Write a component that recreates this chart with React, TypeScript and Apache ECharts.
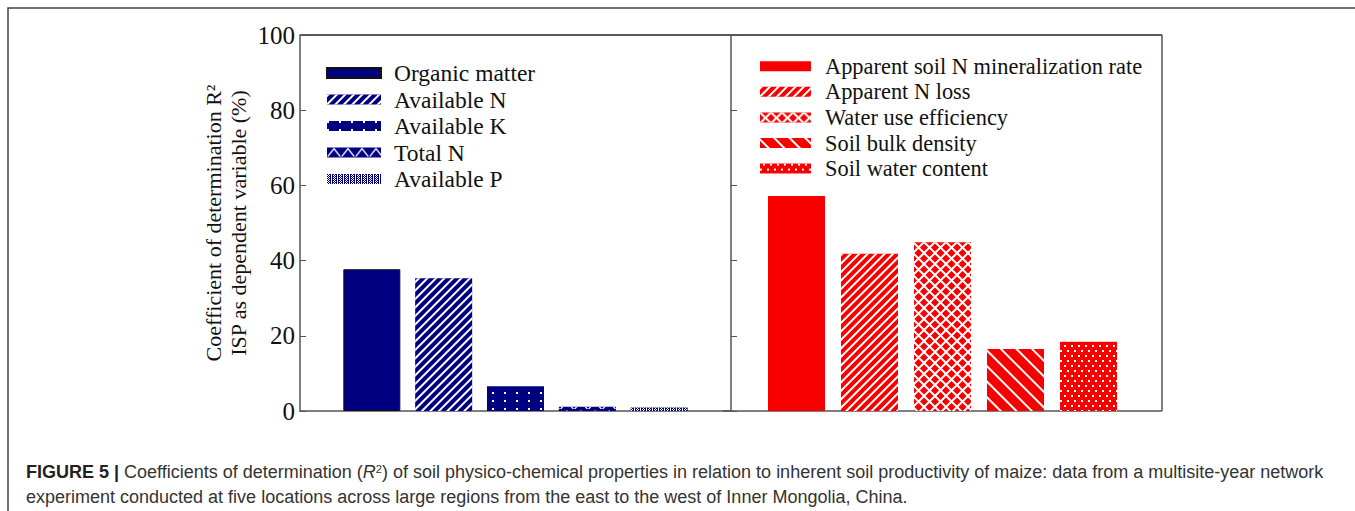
import React, { useEffect, useRef } from "react";
import * as echarts from "echarts";

// ---------- data ----------
const leftNames = ["Organic matter", "Available N", "Available K", "Total N", "Available P"];
const leftValues = [37.7, 35.3, 6.6, 1.1, 0.9];
const rightNames = [
  "Apparent soil N mineralization rate",
  "Apparent N loss",
  "Water use efficiency",
  "Soil bulk density",
  "Soil water content",
];
const rightValues = [57.2, 41.8, 44.9, 16.5, 18.4];
const slots = ["s0", "s1", "s2", "s3", "s4", "s5", "s6"];
const yMin = 0;
const yMax = 100;
const yStep = 20;
const yTitle1 = "Coefficient of determination R²";
const yTitle2 = "ISP as dependent variable (%)";
const caption1a = "FIGURE 5 | ";
const caption1b = "Coefficients of determination (";
const caption1c = ") of soil physico-chemical properties in relation to inherent soil productivity of maize: data from a multisite-year network";
const caption2 = "experiment conducted at five locations across large regions from the east to the west of Inner Mongolia, China.";

// ---------- styles ----------
const NAVY = "#000080";
const RED = "#f80000";
const SERIF = "Liberation Serif";
const SANS = "Liberation Sans";
const AXIS = "#555";

const leftDecals: any[] = [
  null,
  { symbol: "rect", color: "#fff", dashArrayX: [1, 0], dashArrayY: [1.3, 3.7], rotation: -Math.PI / 4 },
  { symbol: "rect", color: "#fff", dashArrayX: [2, 9.5], dashArrayY: [2, 5.5], rotation: 0 },
  { symbol: "path://M0,9L7,0L14,9L12.4,9L7,2.2L1.6,9Z", color: "#fff", dashArrayX: [14, 0], dashArrayY: [9, 1], rotation: 0, symbolKeepAspect: false },
  { symbol: "rect", color: "#fff", dashArrayX: [[1, 1], [0, 1, 1, 1]], dashArrayY: [1, 0], rotation: 0 },
];
const rightDecals: any[] = [
  null,
  { symbol: "rect", color: "#fff", dashArrayX: [1, 0], dashArrayY: [1.3, 3.4], rotation: -Math.PI / 4 },
  {
    symbol: "path://M0,0L1.4,0L11,9.6L11,11L9.6,11L0,1.4Z M11,0L11,1.4L1.4,11L0,11L0,9.6L9.6,0Z",
    color: "#fff",
    dashArrayX: [11, 0],
    dashArrayY: [11, 0],
    rotation: 0,
    symbolKeepAspect: false,
  },
  { symbol: "rect", color: "#fff", dashArrayX: [1, 0], dashArrayY: [1.5, 8.5], rotation: Math.PI / 4 },
  { symbol: "rect", color: "#fff", dashArrayX: [[1.6, 4.4], [0, 3, 1.6, 1.4]], dashArrayY: [1.6, 2.2], rotation: 0 },
];

function makeSeries(names: string[], values: number[], idx: number, color: string, decals: any[]) {
  return names.map((name, i) => {
    const data = slots.map((_, k) => (k === i + 1 ? values[i] : "-"));
    const itemStyle: any = { color };
    if (decals[i]) itemStyle.decal = decals[i];
    if (i === 0 && idx === 0) {
      itemStyle.borderColor = "#111";
      itemStyle.borderWidth = 1;
    }
    return {
      type: "bar",
      name,
      xAxisIndex: idx,
      yAxisIndex: idx,
      stack: "st" + idx,
      barWidth: 57,
      data,
      itemStyle,
      emphasis: { disabled: true },
    };
  });
}

export default function App() {
  const ref = useRef<HTMLDivElement>(null);
  useEffect(() => {
    if (!ref.current) return;
    const chart = echarts.init(ref.current, undefined, { renderer: "svg" });
    const yAxisBase = {
      type: "value",
      min: yMin,
      max: yMax,
      interval: yStep,
      splitLine: { show: false },
      axisLine: { show: true, lineStyle: { color: AXIS, width: 1.5 } },
      axisTick: { show: true, inside: true, length: 6, lineStyle: { color: AXIS, width: 1 } },
    };
    const xAxisBase = {
      type: "category",
      data: slots,
      boundaryGap: false,
      axisLabel: { show: false },
      axisTick: { show: false },
      splitLine: { show: false },
      axisLine: { show: true, lineStyle: { color: AXIS, width: 1.5 } },
    };
    const legendBase = {
      orient: "vertical",
      icon: "rect",
      selectedMode: false,
      itemWidth: 54,
      itemHeight: 10,
      padding: 0,
    };
    const option: any = {
      animation: false,
      backgroundColor: "#fff",
      title: [
        {
          left: 26,
          top: 463,
          padding: 0,
          text: "{b|" + caption1a + "}{n|" + caption1b + "}{i|R}{s|2}{n|" + caption1c + "}",
          textStyle: {
            fontSize: 18,
            fontFamily: SANS,
            fontWeight: "normal",
            color: "#333",
            rich: {
              b: { fontSize: 18, fontFamily: SANS, fontWeight: "bold", color: "#222", lineHeight: 18 },
              n: { fontSize: 18, fontFamily: SANS, color: "#333", lineHeight: 18 },
              i: { fontSize: 18, fontFamily: SANS, fontStyle: "italic", color: "#333", lineHeight: 18 },
              s: { fontSize: 11, fontFamily: SANS, color: "#333", lineHeight: 18, verticalAlign: "top", padding: [0, 0, 6, 0] },
            },
          },
        },
        {
          left: 26,
          top: 488,
          padding: 0,
          text: caption2,
          textStyle: { fontSize: 18, fontFamily: SANS, fontWeight: "normal", color: "#333", lineHeight: 18 },
        },
      ],
      grid: [
        { left: 300, top: 35, width: 431, height: 376 },
        { left: 723.5, top: 35, width: 438, height: 376 },
      ],
      xAxis: [
        { ...xAxisBase, gridIndex: 0 },
        { ...xAxisBase, gridIndex: 1 },
      ],
      yAxis: [
        {
          ...yAxisBase,
          gridIndex: 0,
          axisLabel: { show: true, margin: 5, color: "#111", fontSize: 25, fontFamily: SERIF },
          name: yTitle1 + "\n" + yTitle2,
          nameLocation: "middle",
          nameRotate: 90,
          nameGap: 49,
          nameTextStyle: {
            fontSize: 22,
            fontFamily: SERIF,
            color: "#111",
            align: "center",
            lineHeight: 25,
          },
        },
        {
          ...yAxisBase,
          gridIndex: 1,
          position: "left",
          offset: -7.5,
          axisLabel: { show: false },
        },
      ],
      legend: [
        {
          ...legendBase,
          data: leftNames,
          left: 326,
          top: 61,
          itemGap: 2.5,
          textStyle: { fontSize: 23.5, lineHeight: 23.5, fontFamily: SERIF, color: "#111", padding: [0, 0, 0, 8] },
        },
        {
          ...legendBase,
          data: rightNames,
          left: 760,
          itemWidth: 51,
          top: 55,
          itemGap: 3.2,
          textStyle: { fontSize: 22.4, lineHeight: 22.4, fontFamily: SERIF, color: "#111", padding: [0, 0, 0, 9] },
        },
      ],
      series: [
        ...makeSeries(leftNames, leftValues, 0, NAVY, leftDecals),
        ...makeSeries(rightNames, rightValues, 1, RED, rightDecals),
      ],
      graphic: [
        {
          type: "polyline",
          silent: true,
          shape: { points: [[8, 511], [8, 8], [1355, 8]] },
          style: { stroke: "#444", lineWidth: 1.5, fill: "none" },
        },
        {
          type: "line",
          silent: true,
          shape: { x1: 300, y1: 35, x2: 1162, y2: 35 },
          style: { stroke: "#222", lineWidth: 1.5 },
        },
        {
          type: "line",
          silent: true,
          shape: { x1: 1162, y1: 35, x2: 1162, y2: 411 },
          style: { stroke: AXIS, lineWidth: 1.5 },
        },
      ],
    };
    chart.setOption(option);
    return () => chart.dispose();
  }, []);
  return (
    <div
      ref={ref}
      style={{ position: "absolute", left: 0, top: 0, width: 1355, height: 511 }}
    />
  );
}
